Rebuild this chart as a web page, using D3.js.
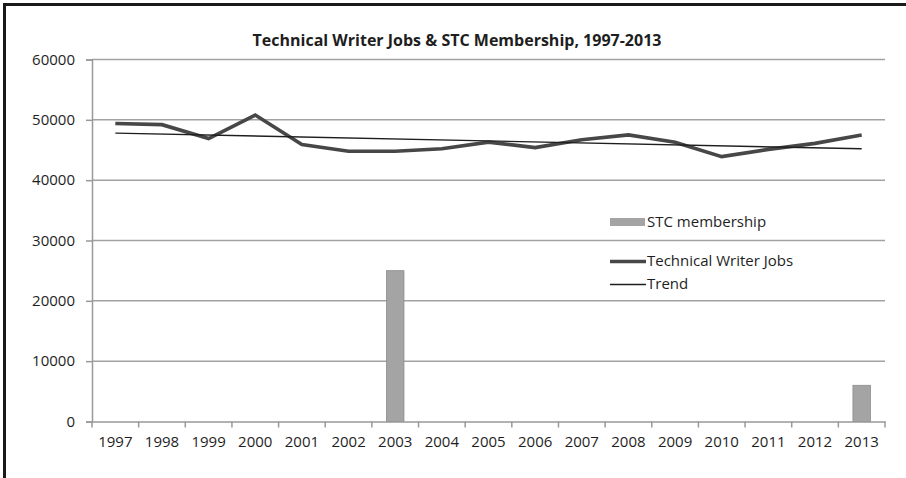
<!DOCTYPE html>
<html>
<head>
<meta charset="utf-8">
<script src="https://cdn.jsdelivr.net/npm/d3@7"></script>
<style>
  html, body { margin: 0; padding: 0; background: #fff; }
  svg { display: block; }
  text { font-family: "Open Sans", "Noto Sans", sans-serif; fill: #1e1e1e; }
</style>
</head>
<body>
<svg id="chart" width="906" height="478"></svg>
<script>
const years = ["1997","1998","1999","2000","2001","2002","2003","2004","2005","2006","2007","2008","2009","2010","2011","2012","2013"];
const jobs = [49400, 49200, 46900, 50800, 45900, 44800, 44800, 45200, 46300, 45400, 46700, 47500, 46300, 43900, 45100, 46100, 47500];
const membership = [null, null, null, null, null, null, 25000, null, null, null, null, null, null, null, null, null, 6000];
const trendYears = ["1997", "2013"];
const trendValues = [47800, 45200];
const yTicks = [0, 10000, 20000, 30000, 40000, 50000, 60000];
const title = "Technical Writer Jobs & STC Membership, 1997-2013";
const legendLabels = ["STC membership", "Technical Writer Jobs", "Trend"];

const svg = d3.select("#chart");
const plot = { left: 92, right: 885, top: 59.5, bottom: 421.5 };

// frame (left and top edges visible)
svg.append("rect").attr("x", 4.5).attr("y", 4.5).attr("width", 1200).attr("height", 1200)
  .attr("fill", "none").attr("stroke", "#1a1a1a").attr("stroke-width", 3);

const x = d3.scaleBand().domain(years).range([plot.left, plot.right]).paddingInner(0).paddingOuter(0);
const y = d3.scaleLinear().domain([0, 60000]).range([plot.bottom, plot.top]);

// gridlines
svg.append("g").selectAll("line").data(yTicks.filter(d => d > 0)).join("line")
  .attr("x1", plot.left).attr("x2", plot.right)
  .attr("y1", d => y(d)).attr("y2", d => y(d))
  .attr("stroke", "#a2a2a2").attr("stroke-width", 1.5);

// y axis
const yAxis = svg.append("g").attr("transform", `translate(${plot.left},0)`)
  .call(d3.axisLeft(y).tickValues(yTicks).tickSize(6).tickPadding(11).tickFormat(d3.format("d")));
yAxis.select(".domain").attr("stroke", "#999").attr("stroke-width", 1.5);
yAxis.selectAll(".tick line").attr("stroke", "#999").attr("stroke-width", 1.5);
yAxis.selectAll("text").style("font-size", "15px").attr("fill", "#1e1e1e");

// bars
const barW = x.step() * 0.375;
svg.append("g").selectAll("rect")
  .data(years.map((yr, i) => ({ yr, v: membership[i] })).filter(d => d.v != null))
  .join("rect")
  .attr("x", d => x(d.yr) + x.bandwidth() / 2 - barW / 2)
  .attr("width", barW)
  .attr("y", d => y(d.v))
  .attr("height", d => y(0) - y(d.v))
  .attr("fill", "#a4a4a4").attr("stroke", "#8c8c8c").attr("stroke-width", 0.8);

// x axis
const xAxis = svg.append("g").attr("transform", `translate(0,${plot.bottom})`)
  .call(d3.axisBottom(x).tickSizeInner(0).tickSizeOuter(0).tickPadding(15));
xAxis.select(".domain").attr("stroke", "#999").attr("stroke-width", 1.5);
xAxis.selectAll("text").style("font-size", "15px").attr("fill", "#1e1e1e");
// ticks between categories
const edges = years.map(d => x(d)).concat([x(years[years.length - 1]) + x.step()]);
svg.append("g").selectAll("line").data(edges).join("line")
  .attr("x1", d => d).attr("x2", d => d)
  .attr("y1", plot.bottom).attr("y2", plot.bottom + 6)
  .attr("stroke", "#999").attr("stroke-width", 1.5);

const cx = d => x(d) + x.bandwidth() / 2;

// jobs line
svg.append("path")
  .datum(years.map((yr, i) => [yr, jobs[i]]))
  .attr("fill", "none").attr("stroke", "#474747").attr("stroke-width", 3.6)
  .attr("stroke-linejoin", "miter")
  .attr("d", d3.line().x(d => cx(d[0])).y(d => y(d[1])));

// trend line
svg.append("path")
  .datum(trendYears.map((yr, i) => [yr, trendValues[i]]))
  .attr("fill", "none").attr("stroke", "#1e1e1e").attr("stroke-width", 1.4)
  .attr("d", d3.line().x(d => cx(d[0])).y(d => y(d[1])));

// title
svg.append("text").attr("x", 457).attr("y", 46).attr("text-anchor", "middle")
  .style("font-size", "16px").style("font-weight", "bold").text(title);

// legend
const lg = svg.append("g").attr("transform", "translate(610,0)");
lg.append("rect").attr("x", 0).attr("y", 218).attr("width", 35).attr("height", 8)
  .attr("fill", "#a4a4a4");
lg.append("line").attr("x1", 0).attr("x2", 36).attr("y1", 261.5).attr("y2", 261.5)
  .attr("stroke", "#474747").attr("stroke-width", 3.6);
lg.append("line").attr("x1", 0).attr("x2", 36).attr("y1", 284.5).attr("y2", 284.5)
  .attr("stroke", "#1e1e1e").attr("stroke-width", 1.4);
const ly = [222, 261, 284];
lg.selectAll("text.lgt").data(legendLabels).join("text").attr("class", "lgt")
  .attr("x", 37).attr("y", (d, i) => ly[i]).attr("dy", "0.35em")
  .style("font-size", "15px").text(d => d);
</script>
</body>
</html>
